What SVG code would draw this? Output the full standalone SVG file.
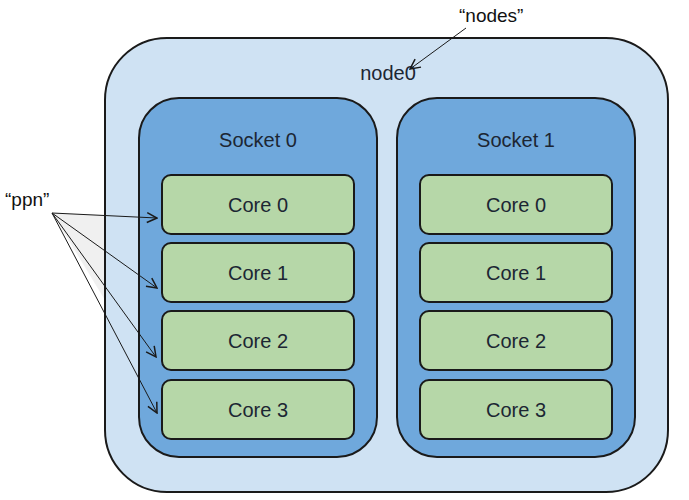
<svg xmlns="http://www.w3.org/2000/svg" width="689" height="500" viewBox="0 0 689 500">
<defs>
<marker id="ah" viewBox="0 0 12 12" refX="11" refY="6" markerWidth="12" markerHeight="12" markerUnits="userSpaceOnUse" orient="auto">
<path d="M1,1 L11,6 L1,11" fill="none" stroke="#1a1a1a" stroke-width="1.5"/>
</marker>
<style>
.box{stroke:#1a1a1a;stroke-width:2}
.node{fill:#cfe2f3}
.sock{fill:#6fa8dc}
.core{fill:#b6d7a8}
.t{font-family:"Liberation Sans",Arial,sans-serif;font-size:20px;fill:#1c2633;text-anchor:middle}
.lbl{font-family:"Liberation Sans",Arial,sans-serif;font-size:19px;fill:#111}
.ln{stroke:#1a1a1a;stroke-width:1;fill:none;marker-end:url(#ah)}
</style>
</defs>
<rect width="689" height="500" fill="#fff"/>
<polygon points="52,213 105,215 105,300" fill="#f0f0f0"/>
<g id="node0">
<rect class="box node" x="105" y="38" width="563" height="454" rx="62"/>
<text class="t" x="388" y="80">node0</text>
</g>
<g id="socket0">
<rect class="box sock" x="139" y="98" width="238" height="359" rx="40"/>
<text class="t" x="258" y="147">Socket 0</text>
</g>
<g id="socket1">
<rect class="box sock" x="397" y="98" width="238" height="359" rx="40"/>
<text class="t" x="516" y="147">Socket 1</text>
</g>
<g id="s0core0"><rect class="box core" x="162" y="175" width="192" height="59" rx="9"/><text class="t" x="258" y="212">Core 0</text></g>
<g id="s0core1"><rect class="box core" x="162" y="243" width="192" height="59" rx="9"/><text class="t" x="258" y="280">Core 1</text></g>
<g id="s0core2"><rect class="box core" x="162" y="311" width="192" height="59" rx="9"/><text class="t" x="258" y="348">Core 2</text></g>
<g id="s0core3"><rect class="box core" x="162" y="380" width="192" height="59" rx="9"/><text class="t" x="258" y="417">Core 3</text></g>
<g id="s1core0"><rect class="box core" x="420" y="175" width="192" height="59" rx="9"/><text class="t" x="516" y="212">Core 0</text></g>
<g id="s1core1"><rect class="box core" x="420" y="243" width="192" height="59" rx="9"/><text class="t" x="516" y="280">Core 1</text></g>
<g id="s1core2"><rect class="box core" x="420" y="311" width="192" height="59" rx="9"/><text class="t" x="516" y="348">Core 2</text></g>
<g id="s1core3"><rect class="box core" x="420" y="380" width="192" height="59" rx="9"/><text class="t" x="516" y="417">Core 3</text></g>
<g id="labels">
<text class="lbl" x="459" y="22">“nodes”</text>
<text class="lbl" x="5" y="206">“ppn”</text>
</g>
<g id="connectors">
<line class="ln" x1="466" y1="28" x2="410" y2="69"/>
<line class="ln" x1="52" y1="213" x2="157" y2="218"/>
<line class="ln" x1="52" y1="213" x2="157" y2="288"/>
<line class="ln" x1="52" y1="213" x2="156" y2="357"/>
<line class="ln" x1="52" y1="213" x2="157" y2="413"/>
</g>
</svg>
